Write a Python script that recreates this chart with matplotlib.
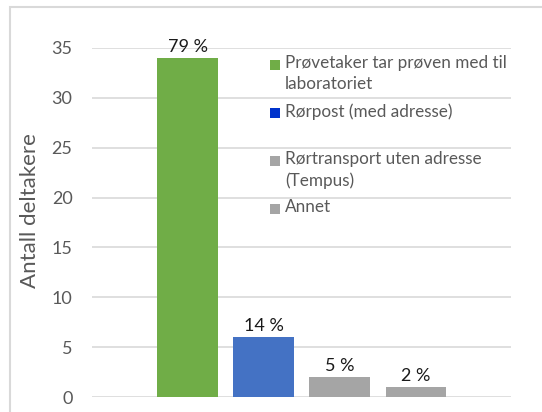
import matplotlib.pyplot as plt
from matplotlib.patches import Rectangle

# ── Data ─────────────────────────────────────────────────────────────────────
categories = ["Prøvetaker tar prøven med til\nlaboratoriet",
              "Rørpost (med adresse)",
              "Rørtransport uten adresse\n(Tempus)",
              "Annet"]
counts = [34, 6, 2, 1]
pct_labels = ["79 %", "14 %", "5 %", "2 %"]

bar_colors = ["#70AD47", "#4472C4", "#A5A5A5", "#A5A5A5"]
legend_colors = ["#70AD47", "#0033CC", "#A5A5A5", "#A5A5A5"]

plt.rcParams['font.family'] = ['Lato', 'DejaVu Sans']

W, H = 542, 412
fig = plt.figure(figsize=(W / 100, H / 100), dpi=100)

def px(x, y):
    # pixel (from top-left) -> figure fraction
    return x / W, 1 - y / H

# chart-area border (cropped on right/bottom like the reference)
fig.patches.append(Rectangle(px(10, 420), (560 - 10) / W, (420 - 7) / H,
                             transform=fig.transFigure, fill=False,
                             edgecolor="#D9D9D9", linewidth=1.5))

ax = fig.add_axes([92 / W, 15 / H, (511 - 92) / W, (397 - 48) / H])
x = range(len(counts))
ax.bar(x, counts, width=0.8, color=bar_colors, zorder=3)

for xi, v, lbl in zip(x, counts, pct_labels):
    ax.annotate(lbl, (xi, v), xytext=(0, 2), textcoords="offset points",
                ha="center", va="bottom", fontsize=13, color="#1a1a1a")

ax.set_xlim(-1.26, 4.25)
ax.set_ylim(0, 35)
ax.set_yticks(range(0, 36, 5))
ax.set_xticks([])
ax.grid(axis="y", color="#D9D9D9", linewidth=1.2, zorder=0)
for s in ax.spines.values():
    s.set_visible(False)
ax.tick_params(axis="y", length=0, pad=14, labelsize=13, labelcolor="#595959")
ax.set_ylabel("Antall deltakere", fontsize=16, color="#595959")
ax.yaxis.set_label_coords(-0.125, 0.535)

# ── Legend (Excel style: handle aligned with first text line) ───────────────
row_y = [65, 113, 161, 209]
for lbl, c, ry in zip(categories, legend_colors, row_y):
    fig.patches.append(Rectangle(px(270, ry + 5), 10 / W, 10 / H,
                                 transform=fig.transFigure,
                                 facecolor=c, edgecolor="none"))
    fig.text(*px(285, ry - 10), lbl, ha="left", va="top", fontsize=12.3,
             color="#595959", linespacing=1.4)

fig.savefig("out.png", dpi=100)
